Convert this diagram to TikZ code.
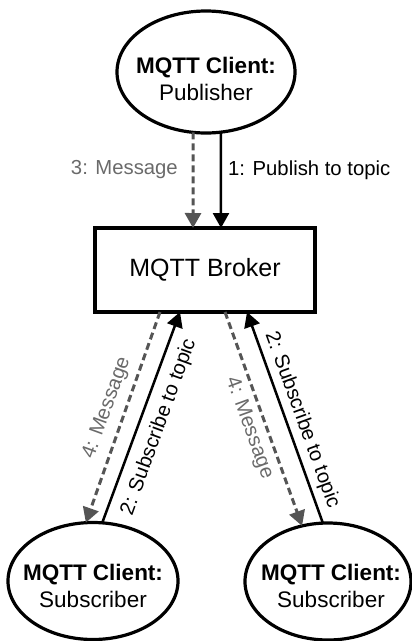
\documentclass[tikz,border=0pt]{standalone}
\usepackage{fontspec}
\setmainfont{Liberation Sans}
\usetikzlibrary{arrows.meta,shapes.geometric}
\definecolor{dashgray}{HTML}{555555}
\definecolor{labgray}{HTML}{6A6A6A}
\tikzset{
  client/.style={draw=black, line width=3.2pt, ellipse, inner sep=0pt, outer sep=0pt},
  clienttext/.style={align=center, font=\fontsize{22.5}{27}\selectfont, inner sep=0pt},
  brokerbox/.style={draw=black, line width=3.2pt, rectangle, inner sep=0pt, outer sep=0pt,
     minimum width=220pt, minimum height=84pt, font=\fontsize{25}{30}\selectfont},
  solidarrow/.style={draw=black, line width=2.5pt, -{Triangle[length=15pt,width=16pt]}},
  dasharrow/.style={draw=dashgray, line width=3pt, dash pattern=on 7pt off 4pt,
     -{Triangle[length=15pt,width=16pt]}},
  blacklab/.style={font=\fontsize{20.3}{24}\selectfont, text=black, inner sep=0pt},
  graylab/.style={font=\fontsize{20.3}{24}\selectfont, text=labgray, inner sep=0pt},
}
\begin{document}
\begin{tikzpicture}[x=1pt,y=-1pt]
\useasboundingbox (0,0) rectangle (412,641);
% nodes
\node[client, minimum width=178pt, minimum height=122pt] (pub) at (206,72) {};
\node[clienttext] (pubtext) at (206,79) {\textbf{MQTT Client:}\\Publisher};
\node[brokerbox] (broker) at (205,270) {MQTT Broker};
\node[client, minimum width=170pt, minimum height=117pt] (sub1) at (93,581) {};
\node[clienttext] (sub1text) at (93,586) {\textbf{MQTT Client:}\\Subscriber};
\node[client, minimum width=166pt, minimum height=117pt] (sub2) at (328,581.5) {};
\node[clienttext] (sub2text) at (331,586) {\textbf{MQTT Client:}\\Subscriber};
% connectors top
\draw[dasharrow] (pub.-102) -- ([xshift=-12pt]broker.north);
\draw[solidarrow] (pub.-76) -- ([xshift=16pt]broker.north);
% connectors bottom left
\draw[dasharrow] ([xshift=-45pt]broker.south) -- (sub1.97.8);
\draw[solidarrow] (sub1.81.2) -- ([xshift=-25pt]broker.south);
% connectors bottom right
\draw[dasharrow] ([xshift=20pt]broker.south) -- (sub2.115);
\draw[solidarrow] (sub2.95) -- ([xshift=42pt]broker.south);
% labels
\node[graylab, anchor=east] (l3) at (178,170) {3: Message};
\node[blacklab, anchor=west] (l1) at (228,170) {1: Publish to topic};
\node[graylab, rotate=70] (l4a) at (107,408) {4: Message};
\node[blacklab, rotate=70] (l2a) at (159,427) {2: Subscribe to topic};
\node[graylab, rotate=-70] (l4b) at (249,428) {4: Message};
\node[blacklab, rotate=-70] (l2b) at (302,420) {2: Subscribe to topic};
\end{tikzpicture}
\end{document}
